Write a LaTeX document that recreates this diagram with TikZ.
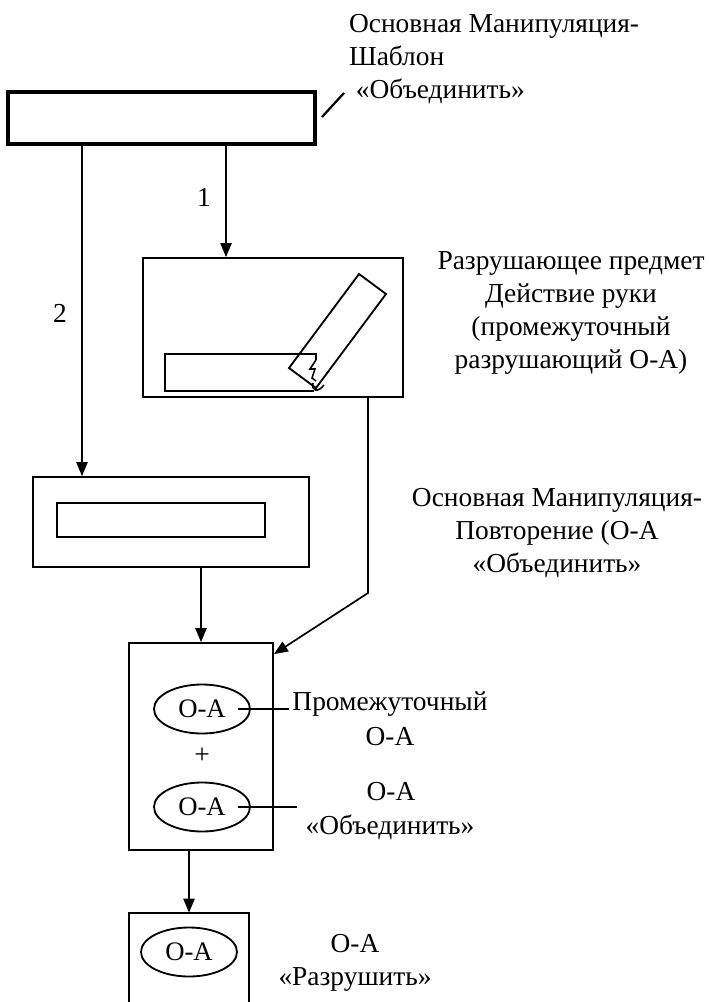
\documentclass[tikz,border=0pt]{standalone}
\usepackage{fontspec}
\setmainfont{Liberation Serif}
\usetikzlibrary{calc}
\usetikzlibrary{arrows.meta}
\usetikzlibrary{shapes.geometric}

\tikzset{
  box/.style={draw, line width=1.2pt, inner sep=0pt},
  heavybox/.style={draw, line width=2.4pt, inner sep=0pt},
  oa/.style={draw, ellipse, line width=1.3pt, inner sep=0pt, minimum width=24mm,
             minimum height=12.25mm, font=\fontsize{19}{23.5}\selectfont},
  arr/.style={line width=1.2pt, -{Triangle[length=10pt,width=8pt]}},
  txt/.style={font=\fontsize{19.5}{23.5}\selectfont, align=center, inner sep=2pt},
  lead/.style={line width=1.2pt},
}

\begin{document}
\begin{tikzpicture}[x=0.25mm, y=-0.25mm]
            \useasboundingbox (0,0) rectangle (708,1002);
            % the boxes
            \node[heavybox, minimum width=76.75mm, minimum height=13mm]    (tmpl)  at (161.5,118)   {};
            \node[box,      minimum width=65mm,    minimum height=34.75mm] (destr) at (273,327.5)   {};
            \node[box,      minimum width=69mm,    minimum height=22.5mm]  (rep)   at (171,522)     {};
            \node[heavybox, minimum width=52mm,    minimum height=8.5mm,
                  line width=2pt]                                          (repin) at (161,520)     {};
            \node[box,      minimum width=36mm,    minimum height=51.75mm] (res)   at (201,746.5)   {};
            \node[inner sep=0pt, minimum width=30mm, minimum height=22.25mm] (fin) at (189,957.5)   {};
            \draw[box] (fin.south west) |- (fin.north east) -- (fin.south east);

            % hand breaking the object
            \draw[line width=1.3pt] (359,274) -- (386,294) -- (316,388) -- (289,368) -- cycle;
            \draw[line width=1.3pt] (316,360) -- (316,354) -- (165,354) -- (165,391) -- (314,391);
            \draw[line width=1.1pt] (316,360) -- (310,369) -- (315,369) -- (312,378) -- (316,381);
            \draw[line width=1.1pt] (313,383) .. controls (311,391) and (318,393) .. (324,385);

            % ovals
            \node[oa] (oa1) at (202,709) {О-А};
            \node[oa] (oa2) at (202,807) {О-А};
            \node[oa] (oa3) at (189,952) {О-А};
            \node[txt] (plus) at (202,756) {+};

            % labels
            \node[txt, anchor=west, align=left] (tmpllbl) at (346,59)
                 {Основная Манипуляция-\\Шаблон\\\ «Объединить»};
            \node[txt] (destrlbl) at (571,313)
                 {Разрушающее предмет\\Действие руки\\(промежуточный\\разрушающий О-А)};
            \node[txt] (replbl) at (557,533)
                 {Основная Манипуляция-\\Повторение (О-А\\«Объединить»};
            \node[txt] (mid1) at (390,704) {Промежуточный};
            \node[txt] (mid2) at (390,737) {О-А};
            \node[txt] (uni1) at (391,792) {О-А};
            \node[txt] (uni2) at (390,827) {«Объединить»};
            \node[txt] (brk1) at (355,944) {О-А};
            \node[txt] (brk2) at (355,979) {«Разрушить»};
            \node[txt] (n1)   at (204,197) {1};
            \node[txt] (n2)   at (60,313)  {2};

            % connectors
            \coordinate (bend)  at (368,593);
            \coordinate (lead2) at (297,807);
            \coordinate (tick1) at (322,117);
            \coordinate (tick2) at (344,93);
            \draw[arr] (tmpl.south -| 226,0) -- (destr.north -| 226,0);
            \draw[arr] (tmpl.south -| 82,0)  -- (rep.north -| 82,0);
            \draw[arr] (res.north |- rep.south) -- (res.north);
            \draw[arr] (destr.south -| bend) -- (bend) -- ([yshift=-3mm]res.north east);
            \draw[arr] (fin.north |- res.south) -- (fin.north);
            \draw[lead] ([xshift=9mm]oa1.center) -- (oa1.center -| mid1.west);
            \draw[lead] ([xshift=9mm]oa2.center) -- (lead2);
            \draw[line width=1.6pt] (tick1) -- (tick2);
        \end{tikzpicture}
\end{document}
